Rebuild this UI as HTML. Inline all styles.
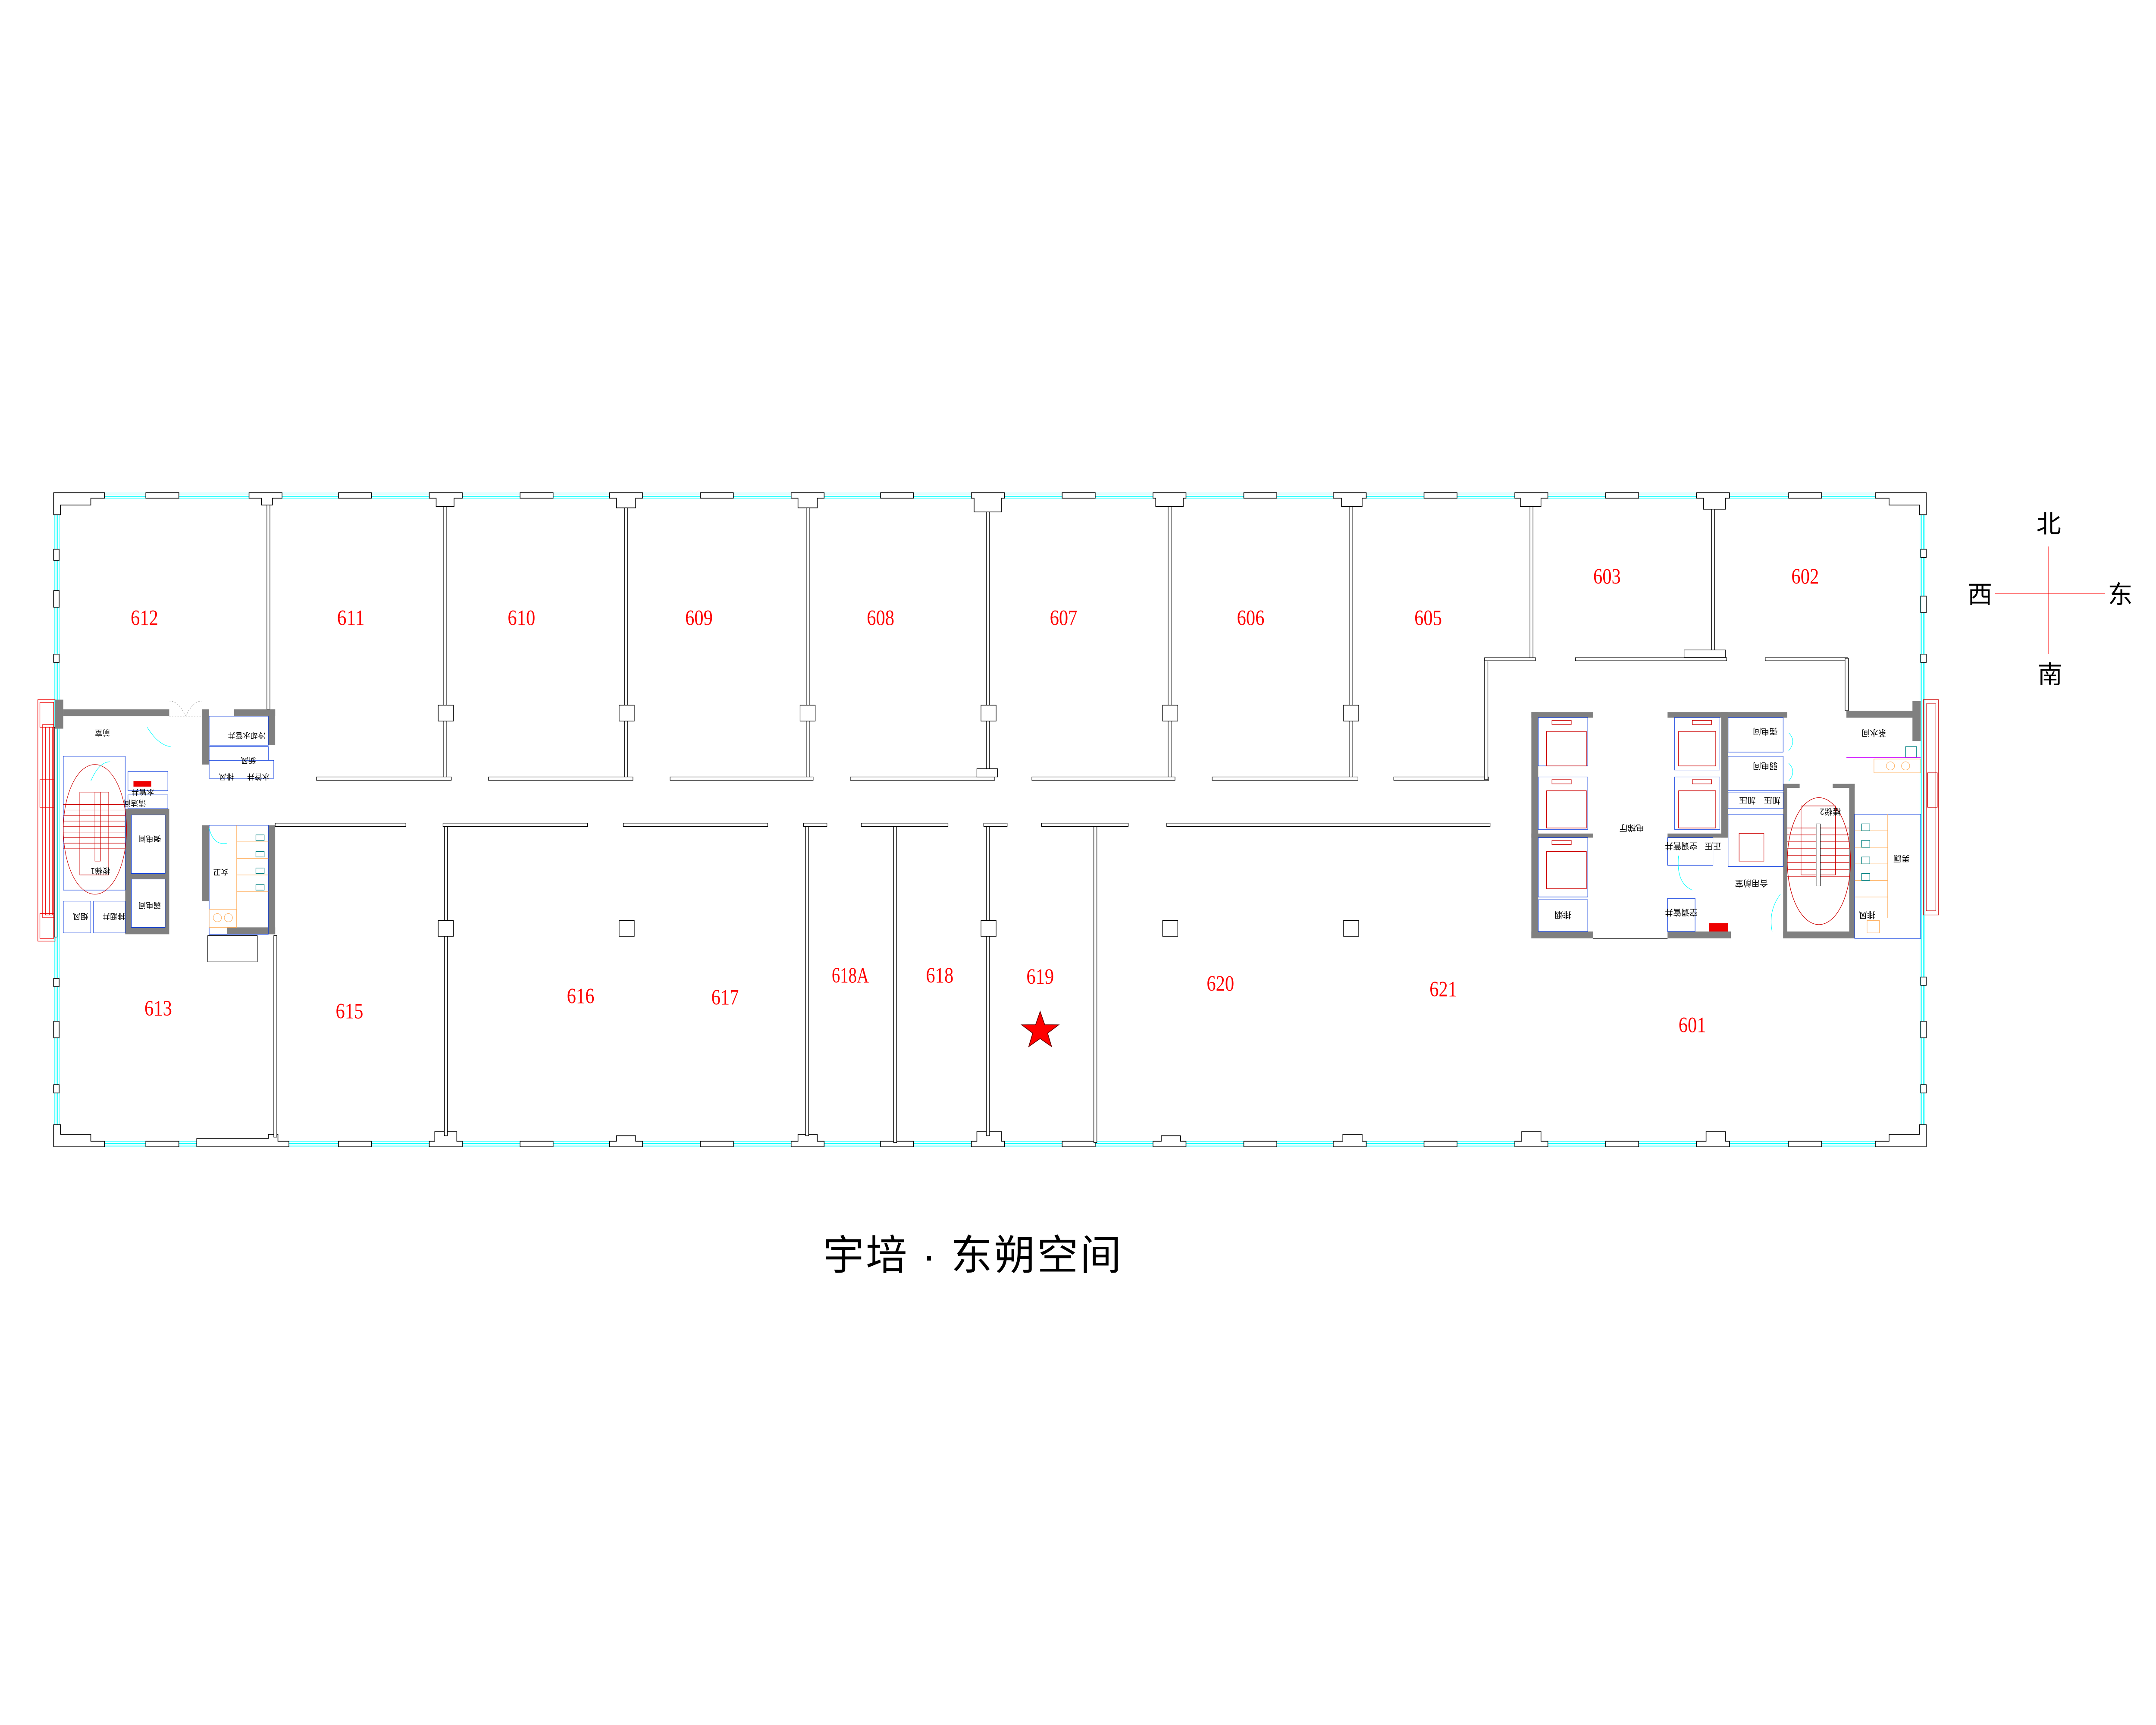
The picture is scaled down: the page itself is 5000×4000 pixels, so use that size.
<!DOCTYPE html>
<html><head><meta charset="utf-8"><style>
html,body{margin:0;padding:0;background:#fff;}
svg{display:block;}
.rl{font-family:"Liberation Serif",serif;fill:#f00;font-size:16px;}
.cn{font-family:"Liberation Sans","Noto Sans CJK SC",sans-serif;fill:#000;}
</style></head><body>
<svg width="5000" height="4000" viewBox="0 0 1567 1250" preserveAspectRatio="none" xmlns="http://www.w3.org/2000/svg">
<rect x="0" y="0" width="1567" height="1250" fill="#fff"/>

<g stroke="#00ffff" stroke-width="0.35" fill="none">
 <line x1="44" y1="357.3" x2="1396" y2="357.3"/><line x1="44" y1="358.6" x2="1396" y2="358.6"/><line x1="44" y1="359.8" x2="1396" y2="359.8"/><line x1="44" y1="361" x2="1396" y2="361"/>
 <line x1="44" y1="827.3" x2="1396" y2="827.3"/><line x1="44" y1="828.6" x2="1396" y2="828.6"/><line x1="44" y1="829.8" x2="1396" y2="829.8"/><line x1="44" y1="831" x2="1396" y2="831"/>
 <line x1="39.5" y1="370" x2="39.5" y2="820"/><line x1="40.7" y1="370" x2="40.7" y2="820"/><line x1="41.9" y1="370" x2="41.9" y2="820"/><line x1="43" y1="370" x2="43" y2="820"/>
 <line x1="1395.5" y1="370" x2="1395.5" y2="820"/><line x1="1396.7" y1="370" x2="1396.7" y2="820"/><line x1="1397.9" y1="370" x2="1397.9" y2="820"/><line x1="1399" y1="370" x2="1399" y2="820"/>
</g>
<g stroke="#000" stroke-width="0.5" fill="#fff">
 <path d="M39,357 H76 V361 H66 V366 H44 V373 H39 Z"/>
 <path d="M1400,357 H1363 V361 H1373 V366 H1395 V373 H1400 Z"/>
 <path d="M39,831 H76 V827 H66 V822 H44 V815 H39 Z"/>
 <path d="M1400,831 H1363 V827 H1373 V822 H1395 V815 H1400 Z"/>
 <rect x="106" y="357" width="24" height="4"/><rect x="246" y="357" width="24" height="4"/><rect x="378" y="357" width="24" height="4"/><rect x="509" y="357" width="24" height="4"/><rect x="640" y="357" width="24" height="4"/><rect x="772" y="357" width="24" height="4"/><rect x="904" y="357" width="24" height="4"/><rect x="1035" y="357" width="24" height="4"/><rect x="1167" y="357" width="24" height="4"/><rect x="1300" y="357" width="24" height="4"/>
 <rect x="106" y="827" width="24" height="4"/><rect x="246" y="827" width="24" height="4"/><rect x="378" y="827" width="24" height="4"/><rect x="509" y="827" width="24" height="4"/><rect x="640" y="827" width="24" height="4"/><rect x="772" y="827" width="24" height="4"/><rect x="904" y="827" width="24" height="4"/><rect x="1035" y="827" width="24" height="4"/><rect x="1167" y="827" width="24" height="4"/><rect x="1300" y="827" width="24" height="4"/>
 <rect x="39" y="398" width="4" height="8"/><rect x="39" y="428" width="4" height="12"/><rect x="39" y="474" width="4" height="6"/>
 <rect x="39" y="709" width="4" height="6"/><rect x="39" y="740" width="4" height="12"/><rect x="39" y="786" width="4" height="6"/>
 <rect x="1396" y="398" width="4" height="6"/><rect x="1396" y="432" width="4" height="12"/><rect x="1396" y="474" width="4" height="6"/>
 <rect x="1396" y="708" width="4" height="6"/><rect x="1396" y="740" width="4" height="12"/><rect x="1396" y="786" width="4" height="6"/>
 <path d="M181,357 H205 V361 H198 V366 H190 V361 H181 Z"/>
 <path d="M312,357 H336 V361 H330 V367 H317 V361 H312 Z"/>
 <path d="M443,357 H467 V361 H462 V368 H448 V361 H443 Z"/>
 <path d="M575,357 H599 V361 H594 V368 H580 V361 H575 Z"/>
 <path d="M706,357 H730 V361 H728 V371 H708 V361 H706 Z"/>
 <path d="M838,357 H862 V361 H860 V367 H840 V361 H838 Z"/>
 <path d="M969,357 H993 V361 H990 V367 H975 V361 H969 Z"/>
 <path d="M1101,357 H1125 V361 H1120 V367 H1105 V361 H1101 Z"/>
 <path d="M1233,357 H1257 V361 H1254 V369 H1238 V361 H1233 Z"/>
 <path d="M143,831 H210 V827 H202 V822 H195 V825 H143 Z"/>
 <path d="M312,831 H336 V827 H332 V820 H316 V827 H312 Z"/>
 <path d="M443,831 H467 V827 H462 V823 H448 V827 H443 Z"/>
 <path d="M575,831 H599 V827 H594 V822 H580 V827 H575 Z"/>
 <path d="M706,831 H730 V827 H728 V820 H710 V827 H706 Z"/>
 <path d="M838,831 H862 V827 H858 V823 H844 V827 H838 Z"/>
 <path d="M969,831 H993 V827 H990 V822 H976 V827 H969 Z"/>
 <path d="M1101,831 H1125 V827 H1120 V820 H1106 V827 H1101 Z"/>
 <path d="M1233,831 H1257 V827 H1254 V820 H1240 V827 H1233 Z"/>
</g>

<g stroke="#000" stroke-width="0.4" fill="#fff">
 <rect x="194" y="366" width="2.2" height="148"/>
 <rect x="322.5" y="367" width="2.2" height="198"/>
 <rect x="454" y="368" width="2.2" height="197"/>
 <rect x="586" y="368" width="2.2" height="197"/>
 <rect x="717" y="371" width="2.2" height="194"/>
 <rect x="849" y="367" width="2.2" height="198"/>
 <rect x="981" y="367" width="2.2" height="198"/>
 <rect x="1112" y="367" width="2.2" height="110"/>
 <rect x="1244" y="369" width="2.2" height="108"/>
 <rect x="230" y="563" width="98" height="2.4"/>
 <rect x="355" y="563" width="105" height="2.4"/>
 <rect x="487" y="563" width="104" height="2.4"/>
 <rect x="618" y="563" width="105" height="2.4"/>
 <rect x="750" y="563" width="104" height="2.4"/>
 <rect x="881" y="563" width="106" height="2.4"/>
 <rect x="1013" y="563" width="69" height="2.4"/>
 <rect x="1079" y="477" width="2.4" height="88"/>
 <rect x="1079" y="476.6" width="37" height="2.2"/>
 <rect x="1145" y="476.6" width="110" height="2.2"/>
 <rect x="1283" y="476.6" width="60" height="2.2"/>
 <rect x="1341" y="477" width="2.4" height="38"/>
 <rect x="1224" y="471" width="30" height="5.5"/>
 <rect x="710" y="557" width="15" height="6"/>
 <rect x="200" y="596.5" width="95" height="2.4"/>
 <rect x="322" y="596.5" width="105" height="2.4"/>
 <rect x="453" y="596.5" width="105" height="2.4"/>
 <rect x="584" y="596.5" width="17" height="2.4"/>
 <rect x="626" y="596.5" width="63" height="2.4"/>
 <rect x="715" y="596.5" width="17" height="2.4"/>
 <rect x="757" y="596.5" width="63" height="2.4"/>
 <rect x="848" y="596.5" width="235" height="2.4"/>
 <rect x="199" y="678" width="2.2" height="146"/>
 <rect x="323" y="599" width="2.2" height="224"/>
 <rect x="585.5" y="599" width="2.2" height="224"/>
 <rect x="649.5" y="599" width="2.2" height="229"/>
 <rect x="717" y="599" width="2.2" height="224"/>
 <rect x="795" y="599" width="2.2" height="229"/>
 <rect x="318.5" y="511" width="11" height="11.5"/><rect x="450" y="511" width="11" height="11.5"/><rect x="581.5" y="511" width="11" height="11.5"/><rect x="713" y="511" width="11" height="11.5"/><rect x="845" y="511" width="11" height="11.5"/><rect x="976.5" y="511" width="11" height="11.5"/>
 <rect x="318.5" y="667" width="11" height="11.5"/><rect x="450" y="667" width="11" height="11.5"/><rect x="713" y="667" width="11" height="11.5"/><rect x="845" y="667" width="11" height="11.5"/><rect x="976.5" y="667" width="11" height="11.5"/>
</g>

<g>
 <g stroke="#e00" stroke-width="0.4" fill="none">
  <rect x="27.5" y="507" width="12.5" height="175"/>
  <rect x="29" y="509" width="10" height="18"/><rect x="29" y="565" width="10" height="20"/><rect x="29" y="662" width="10" height="18"/>
  <rect x="31" y="525" width="8" height="140"/><rect x="33" y="527" width="5" height="136"/>
  <line x1="36" y1="527" x2="36" y2="663"/>
 </g>
 <rect x="39.5" y="527" width="2" height="152" fill="#fff" stroke="#000" stroke-width="0.4"/>
 <g fill="#808080">
  <rect x="40" y="507" width="6" height="21"/>
  <rect x="46" y="514" width="77" height="5"/>
  <rect x="91" y="586" width="32" height="91"/>
  <rect x="147" y="514" width="5" height="40"/>
  <rect x="195" y="514" width="5" height="26"/>
  <rect x="170" y="514" width="30" height="5"/>
  <rect x="147" y="598" width="5" height="55"/>
  <rect x="195" y="598" width="5" height="79"/>
  <rect x="165" y="672" width="35" height="5"/>
 </g>
 <g fill="#fff" stroke="#0033dd" stroke-width="0.35">
  <rect x="95.5" y="590.5" width="24.5" height="42.5"/>
  <rect x="95.5" y="637" width="24.5" height="35"/>
  <rect x="46" y="548" width="45" height="97"/>
  <rect x="46" y="653" width="20" height="23"/>
  <rect x="68" y="653" width="23" height="23"/>
  <rect x="93" y="559" width="29" height="14"/>
  <rect x="93" y="576" width="29" height="10"/>
  <rect x="152" y="519" width="43" height="21"/>
  <rect x="152" y="541" width="43" height="10"/>
  <rect x="152" y="551" width="47" height="13"/>
  <rect x="152" y="598" width="43" height="79" fill="none"/>
 </g>
 <g stroke="#c00" stroke-width="0.35" fill="none">
  <ellipse cx="69" cy="601" rx="23" ry="47"/>
  <line x1="46" y1="583" x2="91" y2="583"/><line x1="46" y1="587" x2="91" y2="587"/><line x1="46" y1="591" x2="91" y2="591"/><line x1="46" y1="595" x2="91" y2="595"/><line x1="46" y1="599" x2="91" y2="599"/><line x1="46" y1="603" x2="91" y2="603"/><line x1="46" y1="607" x2="91" y2="607"/><line x1="46" y1="611" x2="91" y2="611"/><line x1="46" y1="615" x2="91" y2="615"/>
  <rect x="69" y="574" width="4" height="50"/>
  <rect x="58" y="574" width="21" height="60"/>
 </g>
 <rect x="97" y="566" width="13" height="4" fill="#e00"/>
 <g stroke="#ffb060" stroke-width="0.35" fill="none">
  <line x1="172" y1="598" x2="172" y2="672"/>
  <line x1="172" y1="610" x2="195" y2="610"/><line x1="172" y1="622" x2="195" y2="622"/><line x1="172" y1="634" x2="195" y2="634"/><line x1="172" y1="646" x2="195" y2="646"/>
  <rect x="152" y="659" width="20" height="13"/>
  <circle cx="158" cy="665" r="3"/><circle cx="166" cy="665" r="3"/>
 </g>
 <g stroke="#008080" stroke-width="0.4" fill="none">
  <rect x="186" y="605" width="6" height="4"/><rect x="186" y="617" width="6" height="4"/><rect x="186" y="629" width="6" height="4"/><rect x="186" y="641" width="6" height="4"/>
 </g>
 <rect x="151" y="678" width="36" height="19" fill="#fff" stroke="#000" stroke-width="0.4"/>
 <g stroke="#0ff" stroke-width="0.35" fill="none">
  <path d="M107,527 Q115,540 124,541"/><path d="M66,566 Q72,552 80,552"/><path d="M152,600 Q155,613 165,611"/>
 </g>
 <g stroke="#999" stroke-width="0.3" fill="none" stroke-dasharray="1,1">
  <path d="M123,508 Q130,508 135,519"/><path d="M147,508 Q140,508 135,519"/><line x1="123" y1="519" x2="147" y2="519"/>
 </g>
 <g fill="#000" font-family="'Noto Sans CJK SC',sans-serif" font-size="5.5">
  <text transform="translate(80,529) rotate(180)">前室</text>
  <text transform="translate(106,580) rotate(180)">清洁间</text>
  <text transform="translate(112,572) rotate(180)">水管井</text>
  <text transform="translate(117,606) rotate(180)">强电间</text>
  <text transform="translate(117,654) rotate(180)">弱电间</text>
  <text transform="translate(80,629) rotate(180)">楼梯1</text>
  <text transform="translate(64,662) rotate(180)">烟风</text>
  <text transform="translate(91,662) rotate(180)">排烟井</text>
  <text transform="translate(193,531) rotate(180)">冷却水管井</text>
  <text transform="translate(186,549) rotate(180)">新风</text>
  <text transform="translate(170,561) rotate(180)">排风</text>
  <text transform="translate(196,561) rotate(180)">水管井</text>
  <text transform="translate(166,630) rotate(180)">女卫</text>
 </g>
</g>

<g>
 <g fill="#808080">
  <rect x="1113" y="516" width="45" height="4"/>
  <rect x="1113" y="516" width="5" height="164"/>
  <rect x="1113" y="604" width="45" height="3"/>
  <rect x="1113" y="675" width="45" height="5"/>
  <rect x="1212" y="516" width="87" height="4"/>
  <rect x="1251" y="516" width="5" height="91"/>
  <rect x="1212" y="604" width="44" height="3"/>
  <rect x="1212" y="675" width="46" height="5"/>
  <rect x="1296" y="568" width="3" height="112"/>
  <rect x="1296" y="568" width="12" height="3"/>
  <rect x="1332" y="568" width="16" height="3"/>
  <rect x="1344" y="568" width="4" height="112"/>
  <rect x="1296" y="675" width="52" height="5"/>
  <rect x="1342" y="515" width="53" height="5"/>
  <rect x="1390" y="508" width="6" height="29"/>
 </g>
 <g fill="none" stroke="#0033dd" stroke-width="0.35">
  <rect x="1118" y="520" width="36" height="35"/><rect x="1118" y="563" width="36" height="38"/><rect x="1118" y="607" width="36" height="43"/><rect x="1118" y="652" width="36" height="23"/>
  <rect x="1217" y="520" width="33" height="38"/><rect x="1217" y="563" width="33" height="38"/>
  <rect x="1256" y="520" width="40" height="25"/><rect x="1256" y="548" width="40" height="25"/>
  <rect x="1256" y="574" width="40" height="12"/><rect x="1212" y="607" width="33" height="20"/>
  <rect x="1256" y="590" width="40" height="38"/><rect x="1212" y="651" width="20" height="24"/>
  <rect x="1348" y="590" width="48" height="90"/>
 </g>
 <g fill="none" stroke="#c00" stroke-width="0.4">
  <rect x="1124" y="530" width="29" height="25"/><rect x="1128" y="522" width="14" height="3"/>
  <rect x="1124" y="573" width="29" height="27"/><rect x="1128" y="565" width="14" height="3"/>
  <rect x="1124" y="617" width="29" height="27"/><rect x="1128" y="609" width="14" height="3"/>
  <rect x="1220" y="530" width="27" height="25"/><rect x="1230" y="522" width="14" height="3"/>
  <rect x="1220" y="573" width="27" height="27"/><rect x="1230" y="565" width="14" height="3"/>
  <rect x="1264" y="604" width="18" height="20"/>
  <ellipse cx="1322" cy="624" rx="23" ry="46"/>
  <line x1="1299" y1="600" x2="1344" y2="600"/><line x1="1299" y1="605" x2="1344" y2="605"/><line x1="1299" y1="610" x2="1344" y2="610"/><line x1="1299" y1="615" x2="1344" y2="615"/><line x1="1299" y1="620" x2="1344" y2="620"/><line x1="1299" y1="625" x2="1344" y2="625"/><line x1="1299" y1="630" x2="1344" y2="630"/><line x1="1299" y1="635" x2="1344" y2="635"/>
  <rect x="1309" y="584" width="25" height="50"/>
  <rect x="1398" y="507" width="11" height="156"/><rect x="1400" y="510" width="7" height="150"/>
  <rect x="1401" y="560" width="7" height="25"/>
 </g>
 <rect x="1320" y="597" width="3" height="45" fill="#fff" stroke="#000" stroke-width="0.3"/>
 <rect x="1242" y="669" width="14" height="6" fill="#e00"/>
 <g stroke="#ffb060" stroke-width="0.35" fill="none">
  <line x1="1348" y1="602" x2="1372" y2="602"/><line x1="1348" y1="614" x2="1372" y2="614"/><line x1="1348" y1="626" x2="1372" y2="626"/><line x1="1348" y1="638" x2="1372" y2="638"/><line x1="1348" y1="650" x2="1372" y2="650"/>
  <line x1="1372" y1="590" x2="1372" y2="665"/>
  <rect x="1362" y="550" width="34" height="10"/>
  <circle cx="1374" cy="555" r="3"/><circle cx="1385" cy="555" r="3"/>
  <rect x="1357" y="667" width="9" height="9"/>
 </g>
 <g stroke="#008080" stroke-width="0.4" fill="none">
  <rect x="1353" y="597" width="6" height="5"/><rect x="1353" y="609" width="6" height="5"/><rect x="1353" y="621" width="6" height="5"/><rect x="1353" y="633" width="6" height="5"/>
  <rect x="1385" y="541" width="8" height="8"/>
 </g>
 <line x1="1342" y1="549" x2="1396" y2="549" stroke="#c0f" stroke-width="0.4"/>
 <g stroke="#0ff" stroke-width="0.35" fill="none">
  <path d="M1300,531 Q1306,537 1300,544"/><path d="M1300,553 Q1306,559 1300,566"/>
  <path d="M1220,620 Q1218,640 1230,645"/><path d="M1294,648 Q1285,660 1288,675"/>
 </g>
 <line x1="1158" y1="680" x2="1212" y2="680" stroke="#000" stroke-width="0.4"/>
 <g fill="#000" font-family="'Noto Sans CJK SC',sans-serif" font-size="6">
  <text transform="translate(1195,598) rotate(180)">电梯厅</text>
  <text transform="translate(1142,661) rotate(180)">排烟</text>
  <text transform="translate(1292,528) rotate(180)">强电间</text>
  <text transform="translate(1292,553) rotate(180)">弱电间</text>
  <text transform="translate(1276,578) rotate(180)">加压</text>
  <text transform="translate(1294,578) rotate(180)">加压</text>
  <text transform="translate(1251,611) rotate(180)">正压</text>
  <text transform="translate(1234,611) rotate(180)">空调管井</text>
  <text transform="translate(1285,638) rotate(180)">合用前室</text>
  <text transform="translate(1234,659) rotate(180)">空调管井</text>
  <text transform="translate(1338,586) rotate(180)">楼梯2</text>
  <text transform="translate(1388,620) rotate(180)">男厕</text>
  <text transform="translate(1371,529) rotate(180)">茶水间</text>
  <text transform="translate(1363,661) rotate(180)">排风</text>
 </g>
</g>

<g class="rl" text-anchor="middle">
 <text x="105" y="453" textLength="20" lengthAdjust="spacingAndGlyphs">612</text>
 <text x="255" y="453" textLength="20" lengthAdjust="spacingAndGlyphs">611</text>
 <text x="379" y="453" textLength="20" lengthAdjust="spacingAndGlyphs">610</text>
 <text x="508" y="453" textLength="20" lengthAdjust="spacingAndGlyphs">609</text>
 <text x="640" y="453" textLength="20" lengthAdjust="spacingAndGlyphs">608</text>
 <text x="773" y="453" textLength="20" lengthAdjust="spacingAndGlyphs">607</text>
 <text x="909" y="453" textLength="20" lengthAdjust="spacingAndGlyphs">606</text>
 <text x="1038" y="453" textLength="20" lengthAdjust="spacingAndGlyphs">605</text>
 <text x="1168" y="423" textLength="20" lengthAdjust="spacingAndGlyphs">603</text>
 <text x="1312" y="423" textLength="20" lengthAdjust="spacingAndGlyphs">602</text>
 <text x="115" y="736" textLength="20" lengthAdjust="spacingAndGlyphs">613</text>
 <text x="254" y="738" textLength="20" lengthAdjust="spacingAndGlyphs">615</text>
 <text x="422" y="727" textLength="20" lengthAdjust="spacingAndGlyphs">616</text>
 <text x="527" y="728" textLength="20" lengthAdjust="spacingAndGlyphs">617</text>
 <text x="618" y="712" textLength="27" lengthAdjust="spacingAndGlyphs">618A</text>
 <text x="683" y="712" textLength="20" lengthAdjust="spacingAndGlyphs">618</text>
 <text x="756" y="713" textLength="20" lengthAdjust="spacingAndGlyphs">619</text>
 <text x="887" y="718" textLength="20" lengthAdjust="spacingAndGlyphs">620</text>
 <text x="1049" y="722" textLength="20" lengthAdjust="spacingAndGlyphs">621</text>
 <text x="1230" y="748" textLength="20" lengthAdjust="spacingAndGlyphs">601</text>
</g>

<polygon points="756,733 759.3,742.5 769.5,742.6 761.4,748.7 764.3,758.4 756,752.6 747.7,758.4 750.6,748.7 742.5,742.6 752.7,742.5" fill="#f00" stroke="#600" stroke-width="0.5"/>

<text x="707" y="920" text-anchor="middle" class="cn" font-size="30" letter-spacing="1" font-family="'Noto Sans CJK SC',sans-serif" textLength="218" lengthAdjust="spacing">宇培 · 东朔空间</text>

<g stroke="#f00" stroke-width="0.35">
 <line x1="1489" y1="396" x2="1489" y2="474"/>
 <line x1="1450" y1="430" x2="1530" y2="430"/>
</g>
<g class="cn" font-size="18" text-anchor="middle" font-family="'Noto Sans CJK SC',sans-serif">
 <text x="1489" y="386">北</text>
 <text x="1490" y="495">南</text>
 <text x="1439" y="437">西</text>
 <text x="1541" y="437">东</text>
</g>
</svg>
</body></html>
